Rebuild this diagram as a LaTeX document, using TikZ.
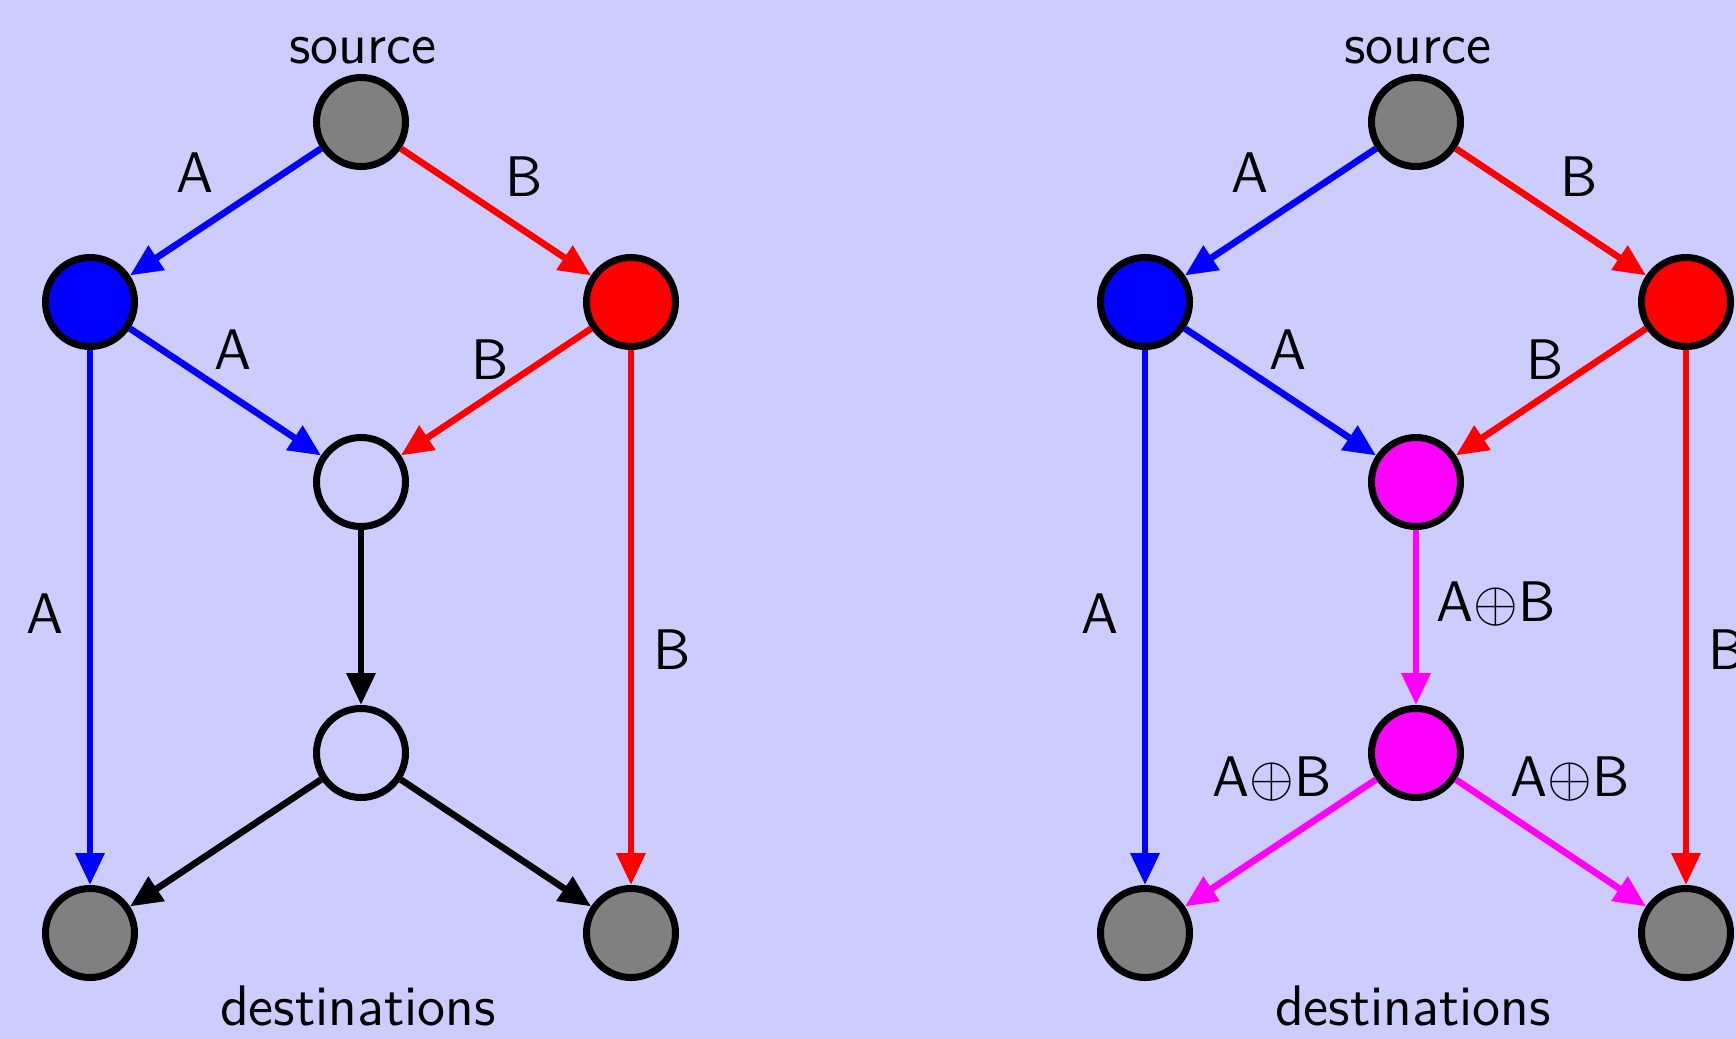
\documentclass[tikz,border=0pt]{standalone}
\usepackage{amsmath}
\usepackage{tikz}
\usepackage{xcolor}
\usetikzlibrary{arrows.meta}
\definecolor{bgblue}{RGB}{204,204,255}
\definecolor{flowA}{RGB}{0,0,255}
\definecolor{flowB}{RGB}{255,0,0}
\definecolor{flowAB}{RGB}{255,0,255}
\tikzset{
    net-node/.style = {draw=black, circle, line width=1.75pt, minimum size=22.25pt, inner sep=0pt},
    net-edge/.style = {line width=1.65pt, -{Triangle[length=8pt,width=7pt]}},
    net-label/.style = {font=\fontsize{14.3}{17}\selectfont\sffamily, text depth=0pt, inner sep=0pt},
}

\begin{document}
\begin{tikzpicture}[x=0.25pt, y=-0.25pt]
\fill[bgblue] (0,0) rectangle (1736,1039);
\useasboundingbox (0,0) rectangle (1736,1039);

% without coding
\node[net-node, fill=gray] (l-src) at (361,122) {};
\node[net-node, fill=flowA] (l-a) at (90,302) {};
\node[net-node, fill=flowB] (l-b) at (631,302) {};
\node[net-node] (l-mid) at (361,482) {};
\node[net-node] (l-low) at (361,753) {};
\node[net-node, fill=gray] (l-dst1) at (90,933) {};
\node[net-node, fill=gray] (l-dst2) at (631,933) {};

\draw[net-edge, flowA] (l-src) -- (l-a);
\draw[net-edge, flowB] (l-src) -- (l-b);
\draw[net-edge, flowA] (l-a) -- (l-mid);
\draw[net-edge, flowB] (l-b) -- (l-mid);
\draw[net-edge, flowA] (l-a) -- (l-dst1);
\draw[net-edge, flowB] (l-b) -- (l-dst2);
\draw[net-edge, black] (l-mid) -- (l-low);
\draw[net-edge, black] (l-low) -- (l-dst1);
\draw[net-edge, black] (l-low) -- (l-dst2);

\node[net-label] (l-src-text) at (363,50) {source};
\node[net-label] (l-dst-text) at (358,1006) {destinations};
\node[net-label] (l-lab1) at (195,173) {A};
\node[net-label] (l-lab2) at (524,177) {B};
\node[net-label] (l-lab3) at (233,350) {A};
\node[net-label] (l-lab4) at (490,360) {B};
\node[net-label] (l-lab5) at (45,614) {A};
\node[net-label] (l-lab6) at (672,650) {B};

% with coding
\node[net-node, fill=gray] (r-src) at (1416,122) {};
\node[net-node, fill=flowA] (r-a) at (1145,302) {};
\node[net-node, fill=flowB] (r-b) at (1686,302) {};
\node[net-node, fill=flowAB] (r-mid) at (1416,482) {};
\node[net-node, fill=flowAB] (r-low) at (1416,753) {};
\node[net-node, fill=gray] (r-dst1) at (1145,933) {};
\node[net-node, fill=gray] (r-dst2) at (1686,933) {};

\draw[net-edge, flowA] (r-src) -- (r-a);
\draw[net-edge, flowB] (r-src) -- (r-b);
\draw[net-edge, flowA] (r-a) -- (r-mid);
\draw[net-edge, flowB] (r-b) -- (r-mid);
\draw[net-edge, flowA] (r-a) -- (r-dst1);
\draw[net-edge, flowB] (r-b) -- (r-dst2);
\draw[net-edge, flowAB] (r-mid) -- (r-low);
\draw[net-edge, flowAB] (r-low) -- (r-dst1);
\draw[net-edge, flowAB] (r-low) -- (r-dst2);

\node[net-label] (r-src-text) at (1418,50) {source};
\node[net-label] (r-dst-text) at (1413,1006) {destinations};
\node[net-label] (r-lab1) at (1250,173) {A};
\node[net-label] (r-lab2) at (1579,177) {B};
\node[net-label] (r-lab3) at (1288,350) {A};
\node[net-label] (r-lab4) at (1545,360) {B};
\node[net-label] (r-lab5) at (1100,614) {A};
\node[net-label] (r-lab6) at (1727,650) {B};
\node[net-label] (r-lab7) at (1496,602) {A{$\oplus$}B};
\node[net-label] (r-lab8) at (1272,777) {A{$\oplus$}B};
\node[net-label] (r-lab9) at (1570,777) {A{$\oplus$}B};
\end{tikzpicture}
\end{document}
